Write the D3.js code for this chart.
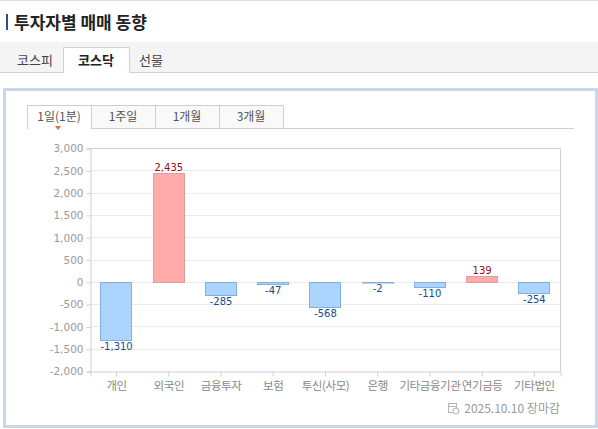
<!DOCTYPE html>
<html>
<head>
<meta charset="utf-8">
<script src="https://cdn.jsdelivr.net/npm/d3@7"></script>
<style>
html,body{margin:0;padding:0;background:#fff;}
svg{display:block;font-family:"Noto Sans CJK KR","Noto Sans",sans-serif;}
</style>
</head>
<body>
<svg id="c" width="598" height="429"></svg>
<script>
const categories = ["개인","외국인","금융투자","보험","투신(사모)","은행","기타금융기관","연기금등","기타법인"];
const values = [-1310, 2435, -285, -47, -568, -2, -110, 139, -254];
const yTicks = [-2000,-1500,-1000,-500,0,500,1000,1500,2000,2500,3000];
const marketTabs = ["코스피","코스닥","선물"];
const periodTabs = ["1일(1분)","1주일","1개월","3개월"];
const title = "투자자별 매매 동향";
const footer = "2025.10.10 장마감";

(function(){
const svg = d3.select("#c");
const fmt = d3.formatLocale({decimal:".",thousands:",",grouping:[3],currency:["",""],minus:"-"}).format(",");

svg.append("line").attr("x1",0).attr("x2",598).attr("y1",0.5).attr("y2",0.5).attr("stroke","#dcdcdc");

svg.append("rect").attr("x",6).attr("y",14).attr("width",2).attr("height",16).attr("fill","#2d4d8f");
svg.append("text").attr("x",14).attr("y",29).attr("font-size",17).attr("font-weight","bold").attr("fill","#222").text(title);

svg.append("rect").attr("x",0).attr("y",42).attr("width",598).attr("height",30).attr("fill","#f4f4f4");
svg.append("line").attr("x1",0).attr("x2",598).attr("y1",72.5).attr("y2",72.5).attr("stroke","#d0d0d0");
svg.append("path").attr("d","M63.5,73 V47.5 H129.5 V73").attr("fill","#fff").attr("stroke","#d0d0d0");
const mtCenters = [35, 96, 151];
svg.selectAll("text.mt").data(marketTabs).join("text").attr("class","mt")
  .attr("x",(d,i)=>mtCenters[i]).attr("y",65).attr("text-anchor","middle")
  .attr("font-size",13).attr("font-weight",(d,i)=>i===1?"bold":"normal")
  .attr("fill",(d,i)=>i===1?"#222":"#444").text(d=>d);

svg.append("rect").attr("x",4.5).attr("y",89.5).attr("width",592).attr("height",337)
  .attr("fill","#fff").attr("stroke","#c9d7ea").attr("stroke-width",3);

const ptX = d3.scaleBand().domain(periodTabs).range([27,283]);
svg.append("line").attr("x1",27).attr("x2",574).attr("y1",128.5).attr("y2",128.5).attr("stroke","#cfcfcf");
svg.selectAll("rect.pt").data(periodTabs).join("rect").attr("class","pt")
  .attr("x",d=>ptX(d)+0.5).attr("y",105.5).attr("width",ptX.bandwidth()).attr("height",23)
  .attr("fill",(d,i)=>i===0?"#fff":"#f9f9f9").attr("stroke","#cfcfcf");
svg.append("line").attr("x1",28).attr("x2",91).attr("y1",128.5).attr("y2",128.5).attr("stroke","#fff");
svg.selectAll("text.pt").data(periodTabs).join("text").attr("class","pt")
  .attr("x",d=>ptX(d)+ptX.bandwidth()/2).attr("y",121).attr("text-anchor","middle")
  .attr("font-size",12).attr("fill","#555").text(d=>d);
svg.append("path").attr("d","M55,126 L61,126 L58,130 Z").attr("fill","#e8692a");

const pl=90, pr=560, pt=148, pb=371;
const x = d3.scaleBand().domain(categories).range([pl,pr]).paddingInner(0.4).paddingOuter(0.2);
const y = d3.scaleLinear().domain([-2000,3000]).range([pb,pt]);

const g = svg.append("g");
g.selectAll("line.grid").data(yTicks.filter(t=>t!==-2000 && t!==3000)).join("line").attr("class","grid")
  .attr("x1",pl).attr("x2",pr).attr("y1",d=>Math.round(y(d))+0.5).attr("y2",d=>Math.round(y(d))+0.5)
  .attr("stroke","#ebebeb");
g.append("path").attr("d",`M${pl},${pt+0.5} H${pr+0.5} V${pb}`).attr("fill","none").attr("stroke","#d0d0d0");

const yAxis = d3.axisLeft(y).tickValues(yTicks).tickSize(4).tickPadding(3).tickFormat(fmt);
const ya = g.append("g").attr("transform",`translate(${pl+0.5},0.5)`).call(yAxis);
ya.select(".domain").attr("stroke","#cfcfcf");
ya.selectAll(".tick line").attr("stroke","#cfcfcf");
ya.selectAll(".tick text").attr("fill","#999").attr("font-size",11).attr("font-family","Tahoma,'DejaVu Sans','Noto Sans',sans-serif").attr("font-size",10.5);

const xAxis = d3.axisBottom(x).tickSize(5).tickPadding(5);
const xa = g.append("g").attr("transform",`translate(0.5,${pb+0.5})`).call(xAxis);
xa.select(".domain").attr("stroke","#cfcfcf");
xa.selectAll(".tick line").attr("stroke","#cfcfcf");
xa.selectAll(".tick text").attr("fill","#888").attr("font-size",11.5).attr("letter-spacing","-0.4px")
  .attr("font-family","'Noto Sans CJK KR',sans-serif");

const data = categories.map((c,i)=>({c, v: values[i]}));
g.selectAll("rect.bar").data(data).join("rect").attr("class","bar")
  .attr("x",d=>Math.round(x(d.c))+0.5)
  .attr("y",d=>Math.round(y(Math.max(0,d.v)))+0.5)
  .attr("width",Math.round(x.bandwidth()))
  .attr("height",d=>Math.max(0.5, Math.round(Math.abs(y(d.v)-y(0)))))
  .attr("fill",d=>d.v>=0?"#ffabab":"#abd5ff")
  .attr("stroke",d=>d.v>=0?"#e39c9c":"#85aee0");

g.selectAll("text.lbl").data(data).join("text").attr("class","lbl")
  .attr("x",d=>x(d.c)+x.bandwidth()/2+0.5)
  .attr("y",d=>d.v>=0 ? y(d.v)-2 : y(d.v)+10)
  .attr("text-anchor","middle").attr("font-size",10)
  .attr("font-family","Tahoma,'DejaVu Sans','Noto Sans',sans-serif")
  .attr("fill",d=>d.v>=0?"#9a0e0e":"#124d93")
  .text(d=>fmt(d.v));

const fIcon = svg.append("g").attr("transform","translate(448,403)").attr("stroke","#b5b5b5").attr("fill","none");
fIcon.append("rect").attr("x",0.5).attr("y",0.5).attr("width",8).attr("height",9);
fIcon.append("line").attr("x1",0.5).attr("x2",8.5).attr("y1",3.5).attr("y2",3.5);
fIcon.append("circle").attr("cx",8).attr("cy",8).attr("r",3).attr("fill","#fff");
svg.append("text").attr("x",560).attr("y",413).attr("text-anchor","end")
  .attr("font-size",12).attr("fill","#999").text(footer);
})();
</script>
</body>
</html>
